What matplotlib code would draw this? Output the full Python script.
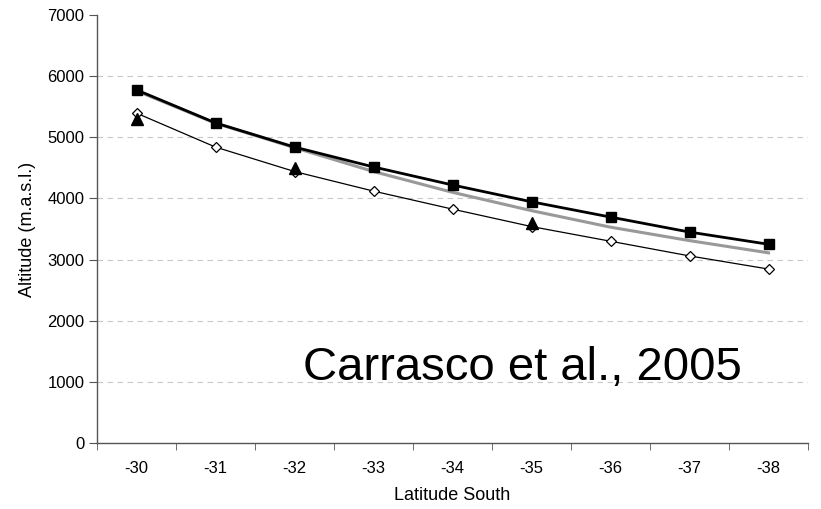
import matplotlib.pyplot as plt
import numpy as np

plt.rcParams['font.family'] = ['Liberation Sans', 'DejaVu Sans']

latitudes = ['-30', '-31', '-32', '-33', '-34', '-35', '-36', '-37', '-38']
alt_squares = [5775, 5235, 4840, 4515, 4220, 3945, 3695, 3450, 3250]
alt_gray = [5760, 5230, 4830, 4440, 4100, 3800, 3530, 3310, 3110]
alt_diamonds = [5395, 4840, 4440, 4120, 3825, 3540, 3300, 3060, 2845]
tri_idx = [0, 2, 5]
alt_triangles = [5300, 4500, 3600]

x = np.arange(len(latitudes))

fig = plt.figure(figsize=(8.21, 5.09), dpi=100)
ax = fig.add_axes([97 / 821, 66 / 509, 711 / 821, 428 / 509])

# dashed grid
for yv in range(1000, 7000, 1000):
    ax.axhline(yv, color='#c8c8c8', linestyle=(0, (5, 4)), linewidth=0.8, zorder=0)

ax.plot(x, alt_gray, color='#999999', linewidth=2.2, zorder=2)
ax.plot(x, alt_squares, color='black', linewidth=2.0, marker='s',
        markersize=7, zorder=3)
ax.plot(x, alt_diamonds, color='black', linewidth=0.9, marker='D',
        markersize=5.5, markerfacecolor='white', markeredgewidth=0.9, zorder=3)
ax.plot(x[tri_idx], alt_triangles, linestyle='none', marker='^',
        color='black', markersize=8, zorder=4)

ax.set_xlim(-0.5, len(latitudes) - 0.5)
ax.set_ylim(0, 7000)
ax.set_xticks(x)
ax.set_xticklabels(latitudes)
ax.set_xticks(np.arange(-0.5, len(latitudes), 1), minor=True)
ax.tick_params(axis='x', which='major', length=0, pad=13, labelsize=12)
ax.tick_params(axis='x', which='minor', length=5, direction='out', color='#555555')
ax.set_yticks(range(0, 7001, 1000))
ax.tick_params(axis='y', length=6, direction='out', labelsize=12, pad=3,
               color='#555555')

for side in ['top', 'right']:
    ax.spines[side].set_visible(False)
for side in ['left', 'bottom']:
    ax.spines[side].set_color('#555555')
    ax.spines[side].set_linewidth(1.0)

ax.set_xlabel('Latitude South', fontsize=13, labelpad=8)
ax.set_ylabel('Altitude (m.a.s.l.)', fontsize=13, labelpad=8)

ax.text(4.88, 1030, 'Carrasco et al., 2005', fontsize=34, ha='center',
        va='baseline')

fig.savefig('out.png', dpi=100)
